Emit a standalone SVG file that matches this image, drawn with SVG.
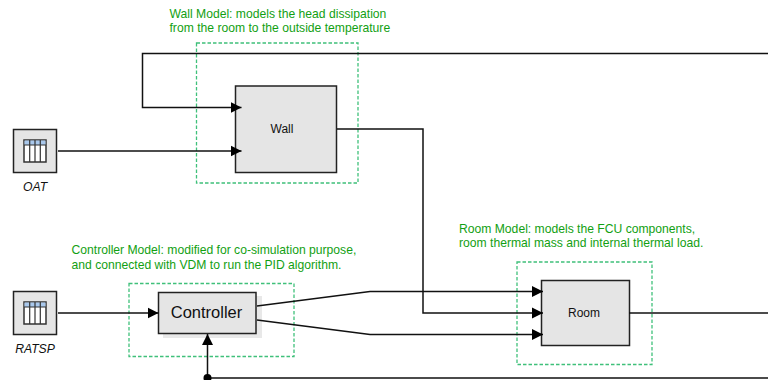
<svg xmlns="http://www.w3.org/2000/svg" width="768" height="380" viewBox="0 0 768 380">
<style>
text{font-family:"Liberation Sans",Arial,sans-serif;fill:#111}
.blk{fill:#e5e5e5;stroke:#222;stroke-width:1.5}
.dash{fill:none;stroke:#3fc07a;stroke-width:1.3;stroke-dasharray:3.5 2}
.note{font-size:12.15px;fill:#12a012}
.wire{fill:none;stroke:#111;stroke-width:1.5}
.lbl{font-size:12px;text-anchor:middle}
.src{font-size:12.2px;font-style:italic;text-anchor:middle}
</style>
<defs>
<marker id="arr" markerUnits="userSpaceOnUse" markerWidth="12" markerHeight="12" refX="11" refY="6" orient="auto"><path d="M0 0.500L11 6L0 11.500Z" fill="#000"/></marker>
<g id="table"><rect x="0" y="0" width="22" height="22" fill="#fff" stroke="#333" stroke-width="1.500"/><rect x="0.500" y="0.500" width="21" height="4.500" fill="#a9c8ec"/><path d="M0 5H22M5.700 0V22M11 0V22M16.300 0V22" stroke="#333" stroke-width="1.200" fill="none"/></g>
</defs>
<g id="wall-model"><rect class="dash" x="196.500" y="43" width="161.500" height="140"/><text class="note" x="169.500" y="17.500">Wall Model: models the head dissipation</text><text class="note" x="169.500" y="31.500">from the room to the outside temperature</text></g>
<g id="controller-model"><rect class="dash" x="129" y="283.500" width="165" height="73"/><text class="note" x="71.500" y="254">Controller Model: modified for co-simulation purpose,</text><text class="note" x="71.500" y="269">and connected with VDM to run the PID algorithm.</text></g>
<g id="room-model"><rect class="dash" x="517" y="262" width="135" height="102.500"/><text class="note" x="459" y="233">Room Model: models the FCU components,</text><text class="note" x="459" y="247">room thermal mass and internal thermal load.</text></g>
<g id="OAT"><rect class="blk" x="13.500" y="129.500" width="43" height="43"/><use href="#table" x="24" y="140"/><text class="src" x="35" y="191">OAT</text></g>
<g id="RATSP"><rect class="blk" x="13.500" y="291.500" width="43" height="43"/><use href="#table" x="24" y="302"/><text class="src" x="35" y="353">RATSP</text></g>
<g id="Wall"><rect class="blk" x="235.500" y="86" width="101" height="86.500"/><text class="lbl" x="282" y="133">Wall</text></g>
<g id="Controller"><rect x="163" y="296" width="99" height="42" fill="#e8e8e8"/><rect class="blk" x="158.500" y="292.500" width="97.500" height="41"/><text x="206.500" y="318" font-size="16.500px" text-anchor="middle">Controller</text></g>
<g id="Room"><rect class="blk" x="541.500" y="280.500" width="88" height="65"/><text class="lbl" x="584" y="317">Room</text></g>
<g id="connectors">
<path class="wire" d="M768 53.500H142.500V107.500H241.500" marker-end="url(#arr)"/>
<path class="wire" d="M58 151H241.500" marker-end="url(#arr)"/>
<path class="wire" d="M337 129H423V313H543" marker-end="url(#arr)"/>
<path class="wire" d="M58 313H158.500" marker-end="url(#arr)"/>
<path class="wire" d="M257 306L370 291.500H543" marker-end="url(#arr)"/>
<path class="wire" d="M257 320L370 334.500H543" marker-end="url(#arr)"/>
<path class="wire" d="M629 313H768"/>
<path class="wire" d="M768 378H207.500V334" marker-end="url(#arr)"/>
<circle cx="207.500" cy="378" r="4" fill="#000"/>
</g>
</svg>
